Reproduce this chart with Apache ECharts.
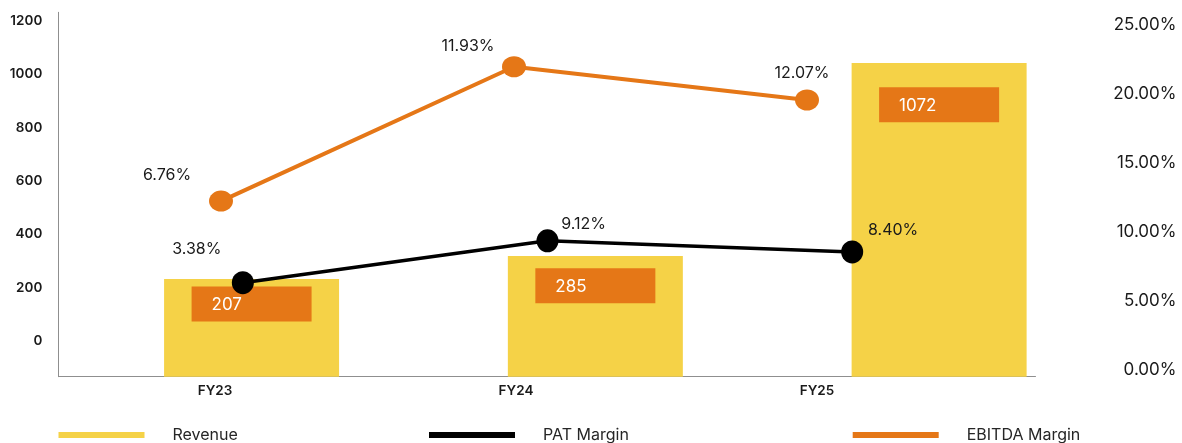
<!DOCTYPE html>
<html><head><meta charset="utf-8">
<script src="https://cdn.jsdelivr.net/npm/echarts@6/dist/echarts.min.js"></script>
<style>html,body{margin:0;padding:0;background:#fff}#c{width:1182px;height:443px}</style>
</head><body><div id="c"></div>
<script>
// ---- data ----
const categories = ['FY23', 'FY24', 'FY25'];
const revenue = [233, 319, 1042];               // bar tops, left-axis units
const ebitdaAmount = [207, 285, 1072];          // numbers printed in the orange boxes
const ebitdaBoxLevel = [140, 208, 885];         // level of the orange boxes, left-axis units
const patMargin = [6.31, 9.35, 8.54];           // plotted on right axis (%)
const patMarginLabels = ['3.38%', '9.12%', '8.40%'];
const ebitdaMargin = [12.23, 21.97, 19.56];     // plotted on right axis (%)
const ebitdaMarginLabels = ['6.76%', '11.93%', '12.07%'];
const leftTicks = { min: 0, max: 1200, interval: 200 };
const rightTicks = { min: 0, max: 25, interval: 5 };
const frameRange = { min: -132.5, max: 1231.4 };

// ---- styling / layout ----
const FONT = 'Inter';
const TXT = '#1a1a1a';
const YELLOW = '#F5D247';
const ORANGE = '#E57717';
const GREY = '#8f8f8f';
const ebitdaLabelShift = [[-54, -26], [-46, -21], [-5, -27]];
const patLabelShift = [[-46, -34], [36, -17], [41, -22]];

const hiddenX = (gi) => ({ type: 'category', gridIndex: gi, data: categories, show: false });
const hiddenY = (gi, r) => ({ type: 'value', gridIndex: gi, min: r.min, max: r.max, show: false, splitLine: { show: false } });

const option = {
  animation: false,
  textStyle: { fontFamily: FONT },
  grid: [
    { left: 58.5, width: 977, top: 12.3, height: 364.4 },   // 0 frame
    { left: 64.5, width: 903, top: 20.7, height: 320.6 },   // 1 tick labels
    { left: 79.7, width: 1031.3, top: 12.3, height: 364.4 },// 2 bars
    { left: 74.5, width: 879, top: 25, height: 344.7 },     // 3 EBITDA margin
    { left: 90.5, width: 914, top: 25, height: 344.7 }      // 4 PAT margin + right axis
  ],
  xAxis: [
    { type: 'category', gridIndex: 0, data: categories,
      axisLine: { onZero: false, lineStyle: { color: GREY, width: 1 } }, axisTick: { show: false }, axisLabel: { show: false } },
    { type: 'category', gridIndex: 1, data: categories, offset: 35.4,
      axisLine: { show: false }, axisTick: { show: false },
      axisLabel: { margin: 7, fontSize: 13.5, fontWeight: 600, color: TXT, fontFamily: FONT } },
    hiddenX(2), hiddenX(3), hiddenX(4)
  ],
  yAxis: [
    { type: 'value', gridIndex: 0, min: frameRange.min, max: frameRange.max,
      axisLine: { show: true, onZero: false, lineStyle: { color: GREY, width: 1 } }, axisTick: { show: false },
      axisLabel: { show: false }, splitLine: { show: false } },
    { type: 'value', gridIndex: 1, min: leftTicks.min, max: leftTicks.max, interval: leftTicks.interval,
      axisLine: { show: false }, axisTick: { show: false }, splitLine: { show: false },
      axisLabel: { margin: 22.2, fontSize: 13.5, fontWeight: 600, color: TXT, fontFamily: FONT,
        formatter: v => String(v) } },
    Object.assign(hiddenY(2, frameRange), { startValue: frameRange.min }),
    hiddenY(3, rightTicks),
    { type: 'value', gridIndex: 4, position: 'right', min: rightTicks.min, max: rightTicks.max, interval: rightTicks.interval,
      axisLine: { show: false }, axisTick: { show: false }, splitLine: { show: false },
      axisLabel: { margin: 172, align: 'right', fontSize: 17, color: TXT, fontFamily: FONT,
        formatter: v => v.toFixed(2) + '%' } }
  ],
  legend: [
    { data: ['Revenue'], left: 58.5 },
    { data: ['PAT Margin'], left: 429 },
    { data: ['EBITDA Margin'], left: 852.7 }
  ].map(l => Object.assign(l, {
    top: 427, icon: 'rect', itemWidth: 86, itemHeight: 6, padding: 0,
    textStyle: { fontSize: 16, color: '#262626', fontFamily: FONT, padding: [0, 0, 0, 23] }
  })),
  series: [
    { name: 'Revenue', type: 'bar', xAxisIndex: 2, yAxisIndex: 2, data: revenue,
      barWidth: 175, itemStyle: { color: YELLOW }, z: 2 },
    { name: 'EBITDA', type: 'scatter', xAxisIndex: 2, yAxisIndex: 2, data: ebitdaBoxLevel,
      symbol: 'rect', symbolSize: [120, 35], itemStyle: { color: ORANGE, opacity: 1 }, z: 3, silent: true,
      label: { show: true, position: 'inside', align: 'left', offset: [-40, 1],
        formatter: p => String(ebitdaAmount[p.dataIndex]), color: '#fff', fontSize: 17, fontFamily: FONT } },
    { name: 'EBITDA Margin', type: 'line', xAxisIndex: 3, yAxisIndex: 3,
      data: ebitdaMargin.map((v, i) => ({ value: v,
        label: { offset: ebitdaLabelShift[i], formatter: ebitdaMarginLabels[i] } })),
      lineStyle: { color: ORANGE, width: 4 }, itemStyle: { color: ORANGE },
      symbol: 'circle', symbolSize: [24, 21], z: 4,
      label: { show: true, position: 'inside', fontSize: 16, color: TXT, fontFamily: FONT } },
    { name: 'PAT Margin', type: 'line', xAxisIndex: 4, yAxisIndex: 4,
      data: patMargin.map((v, i) => ({ value: v,
        label: { offset: patLabelShift[i], formatter: patMarginLabels[i] } })),
      lineStyle: { color: '#000', width: 3.5 }, itemStyle: { color: '#000' },
      symbol: 'circle', symbolSize: [22, 23], z: 5,
      label: { show: true, position: 'inside', fontSize: 16, color: TXT, fontFamily: FONT } }
  ]
};
const chart = echarts.init(document.getElementById('c'), null, { renderer: 'canvas' });
chart.setOption(option);
</script></body></html>
